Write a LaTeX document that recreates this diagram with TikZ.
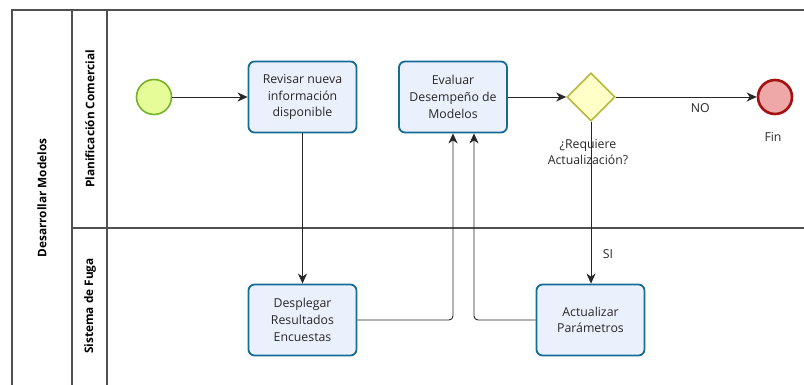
\documentclass[tikz,border=0pt]{standalone}
\usepackage{fontspec}
\setmainfont{Open Sans}
\usetikzlibrary{shapes.geometric,arrows.meta}

\definecolor{taskfill}{RGB}{234,240,252}
\definecolor{taskline}{RGB}{20,108,150}
\definecolor{startfill}{RGB}{230,252,152}
\definecolor{startline}{RGB}{118,178,40}
\definecolor{endfill}{RGB}{238,168,168}
\definecolor{endline}{RGB}{165,16,16}
\definecolor{gatefill}{RGB}{255,255,200}
\definecolor{gateline}{RGB}{184,184,58}
\definecolor{poolline}{RGB}{80,80,80}
\definecolor{txt}{RGB}{40,40,40}

\tikzset{
  task/.style={draw=taskline, fill=taskfill, line width=1.8pt, rounded corners=6pt,
    minimum width=108pt, minimum height=71pt, align=center, text=txt,
    font=\fontsize{12.3}{16.7}\selectfont, inner sep=2pt},
  startev/.style={circle, draw=startline, fill=startfill, line width=1.6pt, minimum size=35pt, inner sep=0pt},
  endev/.style={circle, draw=endline, fill=endfill, line width=2.6pt, minimum size=34pt, inner sep=0pt},
  gateway/.style={diamond, draw=gateline, fill=gatefill, line width=1.6pt, minimum width=48pt, minimum height=48pt, inner sep=0pt},
  flow/.style={draw=black!85, line width=0.9pt, -{Stealth[length=10pt, width=9pt, inset=3pt]}},
  lbl/.style={text=txt, font=\fontsize{12.3}{15.5}\selectfont, align=center},
  hdr/.style={rotate=90, text=black, font=\fontsize{11.8}{13}\selectfont\bfseries},
  pool/.style={draw=poolline, line width=1.3pt}
}

\begin{document}
\begin{tikzpicture}[x=1pt, y=-1pt]
  \useasboundingbox (0,0) rectangle (804,385);

  % pool and lanes
  \draw[pool] (804,10) -- (12,10) -- (12,385);
  \draw[pool] (72,10) -- (72,385);
  \draw[pool] (107,10) -- (107,385);
  \draw[pool] (72,228) -- (804,228);

  \node[hdr] (poolname) at (42,198) {Desarrollar Modelos};
  \node[hdr] (lane1) at (90,119) {Planificación Comercial};
  \node[hdr] (lane2) at (90,306) {Sistema de Fuga};

  % events, tasks and gateway
  \node[startev] (start) at (154,97) {};
  \node[task] (rev) at (302.5,97) {Revisar nueva\\información\\disponible};
  \node[task] (eval) at (453,97) {Evaluar\\Desempeño de\\Modelos};
  \node[gateway] (gate) at (591,97) {};
  \node[endev] (fin) at (775,97) {};
  \node[task] (desp) at (302.5,320) {Desplegar\\Resultados\\Encuestas};
  \node[task] (act) at (590.5,320) {Actualizar\\Parámetros};

  \node[lbl] (gatelbl) at (588,152) {¿Requiere\\Actualización?};
  \node[lbl] (finlbl) at (773,137) {Fin};

  \coordinate (evalin) at ([xshift=21pt]eval.south);

  % sequence flows
  \draw[flow] (start) -- (rev);
  \draw[flow] (rev) -- (desp);
  \draw[flow] (eval) -- (gate);
  \draw[flow] (gate) -- node[lbl, below=3pt, pos=0.6] (nolbl) {NO} (fin);
  \draw[flow] (gate.south) -- node[lbl, right=8pt, pos=0.82] (silbl) {SI} (gate.south |- act.north);
  \draw[flow, rounded corners=4pt] (desp.east) -| (eval.south);
  \draw[flow, rounded corners=4pt] (act.west) -| (evalin);
\end{tikzpicture}
\end{document}
